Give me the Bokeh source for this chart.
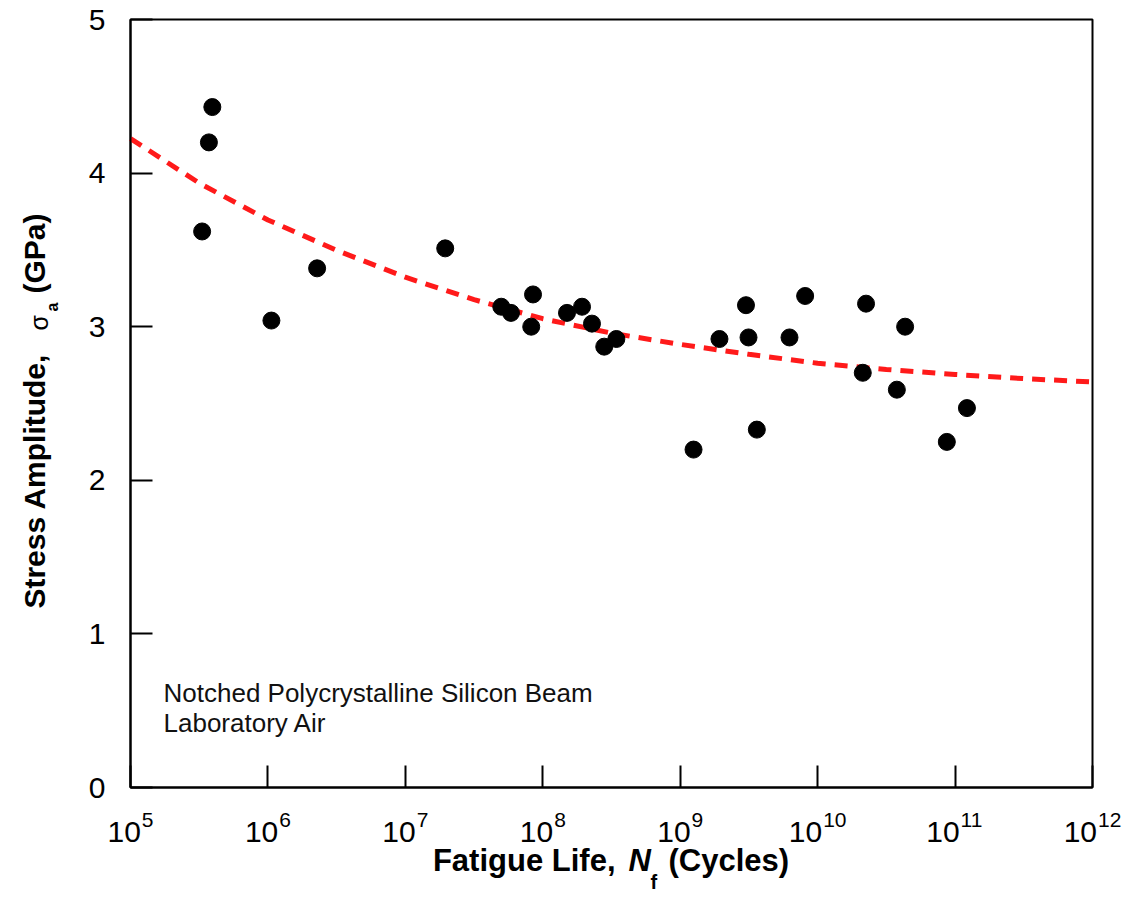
import math
from bokeh.plotting import figure
from bokeh.models import Label, FixedTicker, Range1d, CustomJSTickFormatter
from bokeh.embed import file_html
from bokeh.resources import INLINE

# ---------------- data ----------------
cycles = [3.94e5, 3.72e5, 3.32e5, 1.06e6, 2.28e6, 1.95e7, 4.99e7, 5.87e7,
          8.49e7, 8.24e7, 1.50e8, 1.93e8, 2.28e8, 2.80e8, 3.43e8, 1.25e9,
          1.93e9, 3.01e9, 3.14e9, 3.61e9, 6.24e9, 8.11e9, 2.25e10, 2.13e10,
          3.77e10, 4.33e10, 8.71e10, 1.22e11]
stress = [4.43, 4.20, 3.62, 3.04, 3.38, 3.51, 3.13, 3.09,
          3.21, 3.00, 3.09, 3.13, 3.02, 2.87, 2.92, 2.20,
          2.92, 3.14, 2.93, 2.33, 2.93, 3.20, 3.15, 2.70,
          2.59, 3.00, 2.25, 2.47]

fit_log_cycles = [5.0, 5.5, 6.0, 6.5, 7.0, 7.5, 8.0, 8.5, 9.0, 9.5,
                  10.0, 10.5, 11.0, 11.5, 12.0]
fit_stress = [4.225, 3.935, 3.695, 3.497, 3.322, 3.176, 3.052, 2.958, 2.885,
              2.820, 2.762, 2.722, 2.689, 2.662, 2.640]

x_exponents = [5, 6, 7, 8, 9, 10, 11, 12]
y_ticks = [0, 1, 2, 3, 4, 5]

note_lines = ["Notched Polycrystalline Silicon Beam", "Laboratory Air"]

# ---------------- layout constants (pixels on the canvas) ----------------
W, H = 1122, 911
BOX_L, BOX_R, BOX_T, BOX_B = 130, 1092, 19, 787

x_lo, x_hi = 10.0 ** x_exponents[0], 10.0 ** x_exponents[-1]
y_lo, y_hi = y_ticks[0], y_ticks[-1]

# the plotting frame covers the whole canvas; the drawn box is the data area
px_dec = (BOX_R - BOX_L) / (x_exponents[-1] - x_exponents[0])
lx0 = x_exponents[0] - BOX_L / px_dec
lx1 = x_exponents[-1] + (W - BOX_R) / px_dec
px_unit = (BOX_B - BOX_T) / (y_hi - y_lo)
y0 = y_lo - (H - BOX_B) / px_unit
y1 = y_hi + BOX_T / px_unit

p = figure(width=W, height=H, x_axis_type="log",
           x_range=Range1d(10.0 ** lx0, 10.0 ** lx1), y_range=Range1d(y0, y1),
           output_backend="svg", toolbar_location=None,
           min_border_left=0, min_border_right=0,
           min_border_top=0, min_border_bottom=0)
p.background_fill_color = "white"
p.border_fill_color = "white"
p.outline_line_color = None
p.xgrid.visible = False
p.ygrid.visible = False

for ax in (p.xaxis[0], p.yaxis[0]):
    ax.axis_line_width = 2
    ax.axis_line_color = "black"
    ax.major_tick_in = 22
    ax.major_tick_out = 0
    ax.major_tick_line_width = 2
    ax.major_tick_line_color = "black"
    ax.minor_tick_line_color = None
    ax.major_label_text_font = "Liberation Sans"
    ax.major_label_text_font_size = "30px"
    ax.major_label_text_color = "black"

p.xaxis.fixed_location = y_lo
p.xaxis.bounds = (x_lo, x_hi)
p.xaxis.ticker = FixedTicker(ticks=[10.0 ** e for e in x_exponents], minor_ticks=[])
p.xaxis.formatter = CustomJSTickFormatter(code="return ''")

p.yaxis.fixed_location = x_lo
p.yaxis.bounds = (y_lo, y_hi)
p.yaxis.ticker = FixedTicker(ticks=y_ticks, minor_ticks=[])
p.yaxis.major_label_standoff = 25

# box around the data area
p.quad(left=[x_lo], right=[x_hi], bottom=[y_lo], top=[y_hi],
       fill_color=None, line_color="black", line_width=2)

# ---------------- glyphs ----------------
p.line([10.0 ** v for v in fit_log_cycles], fit_stress, line_color="#ff1a1a",
       line_width=5, line_dash="13 9")
p.scatter(cycles, stress, marker="circle", size=17, fill_color="black",
          line_color="black")

# ---------------- x tick labels: 10 with superscript exponent ----------------
base_fs, exp_fs = 30, 21
digit = 0.556
for e in x_exponents:
    base_w = 2 * digit * base_fs
    exp_w = len(str(e)) * digit * exp_fs
    gap = 1
    left = -(base_w + gap + exp_w) / 2
    p.add_layout(Label(x=10.0 ** e, y=831, x_units="data", y_units="canvas",
                       x_offset=left, text="10", text_align="left",
                       text_baseline="alphabetic", text_font="Liberation Sans",
                       text_font_size=f"{base_fs}px", text_color="black"))
    p.add_layout(Label(x=10.0 ** e, y=819, x_units="data", y_units="canvas",
                       x_offset=left + base_w + gap, text=str(e), text_align="left",
                       text_baseline="alphabetic", text_font="Liberation Sans",
                       text_font_size=f"{exp_fs}px", text_color="black"))

# ---------------- axis titles (pieces) ----------------
tfont = "Liberation Sans"


def piece(x, y, text, size, style="bold", align="left", angle=0.0, font=tfont):
    p.add_layout(Label(x=x, y=y, x_units="canvas", y_units="canvas", angle=angle,
                       text=text, text_align=align, text_baseline="alphabetic",
                       text_font=font, text_font_style=style,
                       text_font_size=f"{size}px", text_color="black"))


piece(615, 860, "Fatigue Life,", 31, align="right")
piece(628, 860, "N", 31, style="bold italic")
piece(650, 881, "f", 20)
piece(668, 860, "(Cycles)", 31)

rot = math.pi / 2
piece(34, 353, "Stress Amplitude,", 30, align="right", angle=rot)
piece(38, 330, "σ", 25, style="normal", angle=rot)
piece(52, 311, "a", 16, angle=rot)
piece(34, 293, "(GPa)", 30, angle=rot)

# ---------------- note ----------------
for i, line in enumerate(note_lines):
    p.add_layout(Label(x=163, y=692 + 30 * i, x_units="canvas", y_units="canvas",
                       text=line, text_align="left", text_baseline="alphabetic",
                       text_font="Liberation Sans", text_font_size="26px",
                       text_color="#111111"))

open("out.html", "w").write(file_html(p, INLINE))
